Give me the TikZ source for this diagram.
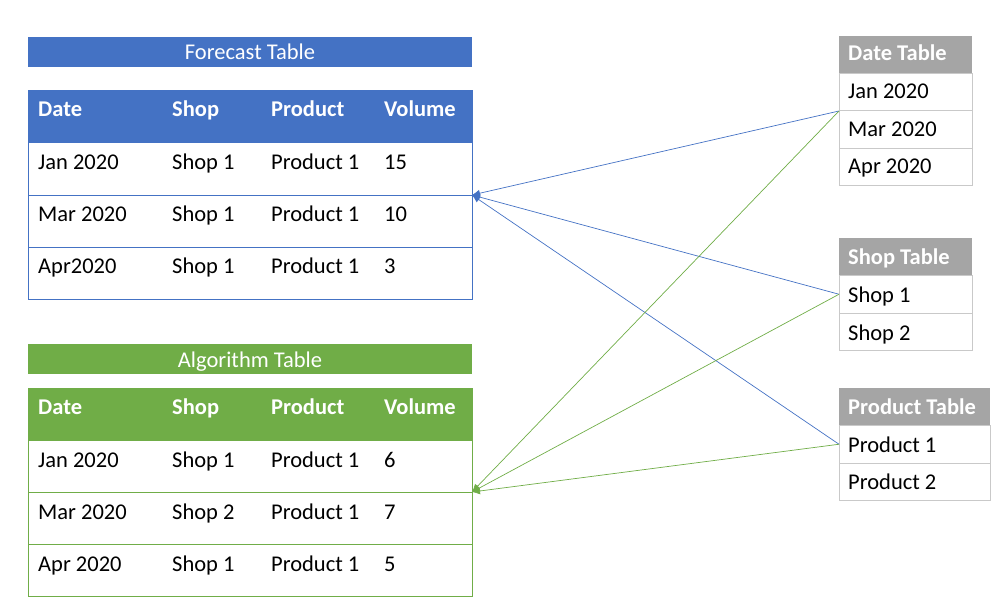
\documentclass[tikz,border=0pt]{standalone}
\usepackage{fontspec}
\setmainfont{Carlito}
\usetikzlibrary{arrows.meta}
\definecolor{fblue}{HTML}{4472C4}
\definecolor{agreen}{HTML}{70AD47}
\definecolor{tgray}{HTML}{A5A5A5}
\definecolor{lgray}{HTML}{C9C9C9}
\tikzset{
  box/.style={inner sep=0pt, outer sep=0pt, anchor=north west, line width=1pt},
  txt/.style={inner sep=0pt, anchor=base west, font=\fontsize{22.5}{27}\selectfont},
  htxt/.style={txt, text=white, font=\fontsize{22.5}{27}\selectfont\bfseries},
  ttxt/.style={inner sep=0pt, anchor=base, text=white, font=\fontsize{22.5}{27}\selectfont},
  link/.style={line width=0.7pt, -{Latex[length=8pt,width=7pt]}}
}
\begin{document}
\begin{tikzpicture}[x=1pt,y=-1pt]
\useasboundingbox (0,0) rectangle (999,607);
% Forecast table
\node[box, fill=fblue, minimum width=444, minimum height=30] (ft) at (28,37) {};
\node[ttxt] (ftt) at (250,60) {Forecast Table};
\node[box, fill=fblue, draw=fblue, minimum width=444, minimum height=52] (fh) at (28,91) {};
\node[box, draw=fblue, minimum width=444, minimum height=52] (fr1) at (28,143) {};
\node[box, draw=fblue, minimum width=444, minimum height=52] (fr2) at (28,195) {};
\node[box, draw=fblue, minimum width=444, minimum height=52] (fr3) at (28,247) {};
\node[htxt] (fh1) at (38,117) {Date};
\node[htxt] (fh2) at (172,117) {Shop};
\node[htxt] (fh3) at (271,117) {Product};
\node[htxt] (fh4) at (384,117) {Volume};
\node[txt] (f11) at (38,169) {Jan 2020};
\node[txt] (f12) at (172,169) {Shop 1};
\node[txt] (f13) at (271,169) {Product 1};
\node[txt] (f14) at (384,169) {15};
\node[txt] (f21) at (38,221) {Mar 2020};
\node[txt] (f22) at (172,221) {Shop 1};
\node[txt] (f23) at (271,221) {Product 1};
\node[txt] (f24) at (384,221) {10};
\node[txt] (f31) at (38,273) {Apr2020};
\node[txt] (f32) at (172,273) {Shop 1};
\node[txt] (f33) at (271,273) {Product 1};
\node[txt] (f34) at (384,273) {3};
% Algorithm table
\node[box, fill=agreen, minimum width=444, minimum height=30] (at) at (28,344) {};
\node[ttxt] (att) at (250,367) {Algorithm Table};
\node[box, fill=agreen, draw=agreen, minimum width=444, minimum height=52] (ah) at (28,388) {};
\node[box, draw=agreen, minimum width=444, minimum height=52] (ar1) at (28,440) {};
\node[box, draw=agreen, minimum width=444, minimum height=52] (ar2) at (28,492) {};
\node[box, draw=agreen, minimum width=444, minimum height=52] (ar3) at (28,544) {};
\node[htxt] (ah1) at (38,414) {Date};
\node[htxt] (ah2) at (172,414) {Shop};
\node[htxt] (ah3) at (271,414) {Product};
\node[htxt] (ah4) at (384,414) {Volume};
\node[txt] (a11) at (38,467) {Jan 2020};
\node[txt] (a12) at (172,467) {Shop 1};
\node[txt] (a13) at (271,467) {Product 1};
\node[txt] (a14) at (384,467) {6};
\node[txt] (a21) at (38,519) {Mar 2020};
\node[txt] (a22) at (172,519) {Shop 2};
\node[txt] (a23) at (271,519) {Product 1};
\node[txt] (a24) at (384,519) {7};
\node[txt] (a31) at (38,571) {Apr 2020};
\node[txt] (a32) at (172,571) {Shop 1};
\node[txt] (a33) at (271,571) {Product 1};
\node[txt] (a34) at (384,571) {5};
% Date table
\node[box, fill=tgray, minimum width=133, minimum height=37.5] (dh) at (839,36) {};
\node[box, draw=lgray, minimum width=133, minimum height=37.5] (d1) at (839,73.5) {};
\node[box, draw=lgray, minimum width=133, minimum height=37.5] (d2) at (839,111) {};
\node[box, draw=lgray, minimum width=133, minimum height=37.5] (d3) at (839,148.5) {};
\node[htxt] (dht) at (848,61) {Date Table};
\node[txt] (dt1) at (848,99) {Jan 2020};
\node[txt] (dt2) at (848,137) {Mar 2020};
\node[txt] (dt3) at (848,174) {Apr 2020};
% Shop table
\node[box, fill=tgray, minimum width=133, minimum height=37.5] (sh) at (839,238) {};
\node[box, draw=lgray, minimum width=133, minimum height=37.5] (s1) at (839,275.5) {};
\node[box, draw=lgray, minimum width=133, minimum height=37.5] (s2) at (839,313) {};
\node[htxt] (sht) at (848,264) {Shop Table};
\node[txt] (st1) at (848,302) {Shop 1};
\node[txt] (st2) at (848,340) {Shop 2};
% Product table
\node[box, fill=tgray, minimum width=151, minimum height=37.5] (ph) at (839,388) {};
\node[box, draw=lgray, minimum width=151, minimum height=37.5] (p1) at (839,425.5) {};
\node[box, draw=lgray, minimum width=151, minimum height=37.5] (p2) at (839,463) {};
\node[htxt] (pht) at (848,414) {Product Table};
\node[txt] (pt1) at (848,452) {Product 1};
\node[txt] (pt2) at (848,489) {Product 2};
% connectors
\draw[link, fblue] (d1.south west) -- (fr1.south east);
\draw[link, fblue] (s1.west) -- (fr1.south east);
\draw[link, fblue] (p1.west) -- (fr1.south east);
\draw[link, agreen] (d1.south west) -- (ar1.south east);
\draw[link, agreen] (s1.west) -- (ar1.south east);
\draw[link, agreen] (p1.west) -- (ar1.south east);
\end{tikzpicture}
\end{document}
